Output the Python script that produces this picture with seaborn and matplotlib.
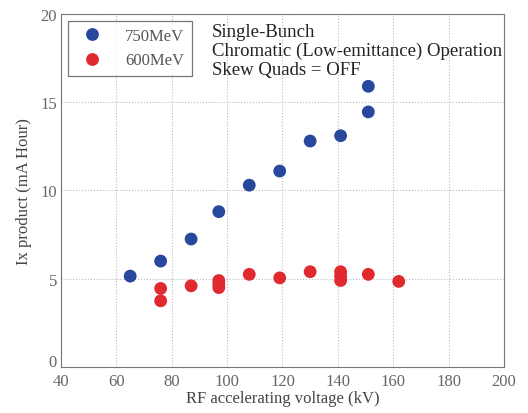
import seaborn as sns
import matplotlib.pyplot as plt
import matplotlib.transforms as mtransforms
import pandas as pd

# RF voltage (kV) and Ix product (mA Hour)
volt_750 = [65, 76, 87, 97, 108, 119, 130, 141, 151, 151]
ix_750 = [5.15, 6.0, 7.25, 8.8, 10.3, 11.1, 12.8, 13.1, 14.45, 15.9]
volt_600 = [76, 76, 87, 97, 97, 97, 108, 119, 130, 141, 141, 141, 151, 162]
ix_600 = [4.45, 3.75, 4.6, 4.9, 4.7, 4.5, 5.25, 5.05, 5.4, 5.4, 5.15, 4.9, 5.25, 4.85]

df = pd.DataFrame({
    'voltage': volt_750 + volt_600,
    'ix': ix_750 + ix_600,
    'energy': ['750MeV'] * len(volt_750) + ['600MeV'] * len(volt_600),
})

sns.set_style('white')
plt.rcParams['font.family'] = ['Liberation Serif', 'DejaVu Serif']

fig = plt.figure(figsize=(5.28, 4.14), dpi=100)
ax = fig.add_axes([0.1155, 0.111, 0.839, 0.853])
sns.scatterplot(data=df, x='voltage', y='ix', hue='energy',
                palette={'750MeV': '#27489c', '600MeV': '#e02a30'},
                s=85, edgecolor='none', ax=ax)

ax.set_xlim(40, 200)
ax.set_ylim(0, 20)
ax.set_xticks(range(40, 201, 20))
ax.set_yticks([0, 5, 10, 15, 20])
ax.grid(True, linestyle=':', color='#bbbbbb', linewidth=0.8)
for s in ax.spines.values():
    s.set_color('#777777')
ax.tick_params(colors='#666666', labelsize=12, direction='in', length=3)
ax.tick_params(axis='x', pad=4)
ax.tick_params(axis='y', pad=3)
ax.set_xlabel('RF accelerating voltage (kV)', fontsize=12, color='#444444', labelpad=1)
ax.set_ylabel('Ix product (mA Hour)', fontsize=12, color='#444444', labelpad=6)

# nudge the "0" on the y axis up so it clears the "40" below it
zero_lbl = ax.get_yticklabels()[0]
zero_lbl.set_transform(zero_lbl.get_transform() +
                       mtransforms.ScaledTranslation(0, 5 / 72, fig.dpi_scale_trans))

leg = ax.legend(loc='upper left', fontsize=12, frameon=True, fancybox=False,
                edgecolor='#555555', handletextpad=1.0, borderpad=0.45,
                labelspacing=0.5, borderaxespad=0.4, labelcolor='#555555',
                handlelength=2.0)
leg.get_frame().set_linewidth(0.9)

ax.text(0.34, 0.975, 'Single-Bunch\nChromatic (Low-emittance) Operation\nSkew Quads = OFF',
        transform=ax.transAxes, va='top', ha='left', fontsize=13.5,
        color='#222222', linespacing=1.15)

plt.savefig('out.png', dpi=100)
plt.close()
